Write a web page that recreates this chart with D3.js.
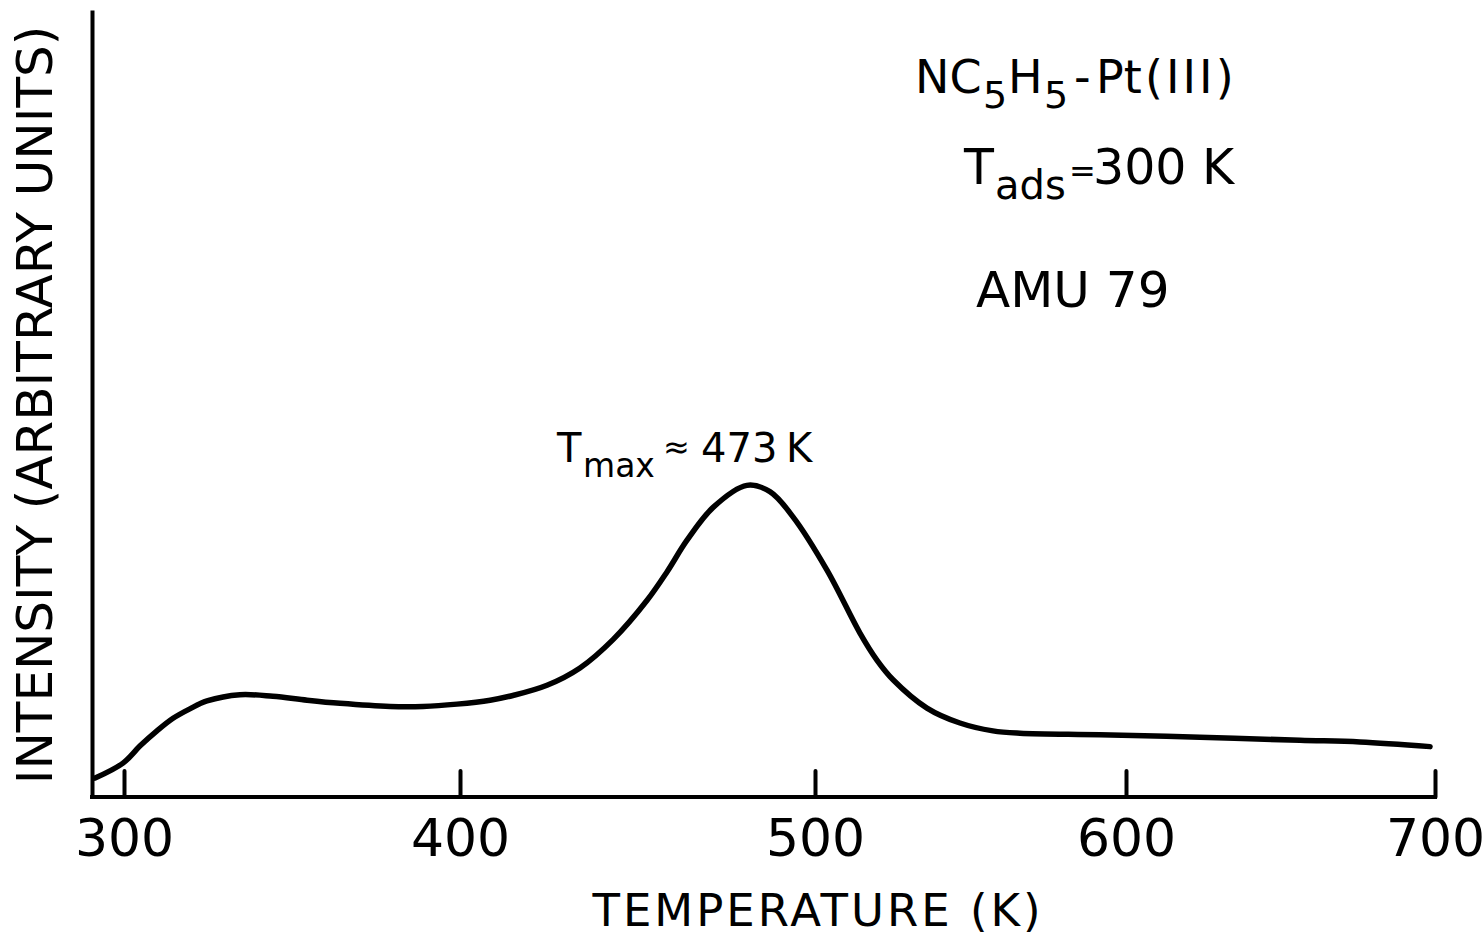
<!DOCTYPE html>
<html>
<head>
<meta charset="utf-8">
<title>NC5H5 - Pt(111) TDS, AMU 79</title>
<script src="https://cdn.jsdelivr.net/npm/d3@7"></script>
<style>
    body { margin: 0; background: #fff; }
    svg { display: block; }
    text { font-family: "DejaVu Sans", sans-serif; fill: #000; }
</style>
</head>
<body>
<script>
// chart data
const temperature = [291.4, 299.7, 304.8, 309.8, 314.6, 319.6, 324.7, 334.5, 344.3, 354.5,
    364.3, 379.2, 389.0, 399.1, 408.5, 414.9, 424.5, 433.8, 443.1, 452.7,
    458.3, 463.9, 471.3, 480.8, 487.3, 493.8, 503.9, 514.5, 519.9, 525.1,
    536.0, 546.6, 557.2, 565.9, 591.6, 623.9, 656.3, 675.7, 698.4];
const intensity = [2.4, 4.3, 6.5, 8.4, 10.0, 11.2, 12.2, 13.0, 12.8, 12.3,
    11.9, 11.5, 11.5, 11.8, 12.3, 12.9, 14.2, 16.4, 20.0, 25.0,
    28.6, 32.6, 36.8, 39.6, 38.8, 35.6, 28.8, 20.8, 17.4, 14.9,
    11.3, 9.4, 8.4, 8.1, 7.9, 7.6, 7.2, 7.0, 6.4];
const xTicks = [300, 400, 500, 600, 700];

const width = 1484;
const height = 939;
const axisLeftX = 92;   // vertical axis position
const axisBaseY = 797;  // horizontal axis position
const axisTopY = 10;
// hand drawn tick spacing of the original is uneven, so the scale is piecewise
const tickPixels = [124, 460, 815, 1126, 1435];

var svg;
var x_scale, y_scale;

function generateScale() {
    x_scale = d3.scaleLinear().domain(xTicks).range(tickPixels);
    y_scale = d3.scaleLinear().domain([0, 100]).range([axisBaseY, axisTopY]);
}

function generateAxis() {
    // y axis: just the line, no ticks
    svg.append("g")
        .attr("id", "y-axis")
        .attr("transform", "translate(" + axisLeftX + ",0)")
        .call(d3.axisLeft(y_scale).tickValues([]).tickSizeOuter(0))
        .select(".domain")
        .attr("stroke", "#000")
        .attr("stroke-width", 4);

    // x axis baseline runs from the y axis to the last tick
    svg.append("line")
        .attr("x1", axisLeftX - 2)
        .attr("x2", x_scale(700) + 2)
        .attr("y1", axisBaseY)
        .attr("y2", axisBaseY)
        .attr("stroke", "#000")
        .attr("stroke-width", 4);

    // ticks point up into the plot
    var gx = svg.append("g")
        .attr("id", "x-axis")
        .attr("transform", "translate(0," + axisBaseY + ")")
        .call(d3.axisBottom(x_scale).tickValues(xTicks).tickSizeInner(-26).tickSizeOuter(0).tickPadding(22));
    gx.select(".domain").remove();
    gx.selectAll(".tick line")
        .attr("stroke", "#000")
        .attr("stroke-width", 4)
        .attr("stroke-linecap", "round");
    gx.selectAll(".tick text")
        .attr("font-family", "DejaVu Sans")
        .attr("font-size", 52)
        .attr("fill", "#000");
}

function generateLabels() {
    svg.append("text")
        .attr("x", 818)
        .attr("y", 926)
        .attr("text-anchor", "middle")
        .attr("font-size", 45)
        .attr("letter-spacing", 3)
        .text("TEMPERATURE (K)");

    svg.append("text")
        .attr("transform", "translate(52,405) rotate(-90)")
        .attr("text-anchor", "middle")
        .attr("font-size", 50)
        .text("INTENSITY (ARBITRARY UNITS)");

    // sample description, top right
    var t1 = svg.append("text").attr("y", 93).attr("font-size", 46);
    t1.append("tspan").attr("x", 915).text("NC");
    t1.append("tspan").attr("x", 983).attr("y", 108).attr("font-size", 38).text("5");
    t1.append("tspan").attr("x", 1008).attr("y", 93).text("H");
    t1.append("tspan").attr("x", 1044).attr("y", 108).attr("font-size", 38).text("5");
    t1.append("tspan").attr("x", 1074).attr("y", 93).text("-");
    t1.append("tspan").attr("x", 1096).text("Pt");
    t1.append("tspan").attr("x", 1145).attr("letter-spacing", 3).text("(III)");

    var t2 = svg.append("text").attr("y", 184).attr("font-size", 49);
    t2.append("tspan").attr("x", 964).text("T");
    t2.append("tspan").attr("x", 995).attr("y", 199).attr("font-size", 40).text("ads");
    t2.append("tspan").attr("x", 1069).attr("y", 182).attr("font-size", 32).text("=");
    t2.append("tspan").attr("x", 1093).attr("y", 184).text("300 K");

    svg.append("text")
        .attr("x", 976)
        .attr("y", 307)
        .attr("font-size", 50)
        .text("AMU 79");

    // peak annotation
    var t3 = svg.append("text").attr("y", 462).attr("font-size", 40);
    t3.append("tspan").attr("x", 557).text("T");
    t3.append("tspan").attr("x", 583).attr("y", 477).attr("font-size", 33).text("max");
    t3.append("tspan").attr("x", 663).attr("y", 458).attr("font-size", 32).text("\u2248");
    t3.append("tspan").attr("x", 701).attr("y", 462).text("473");
    t3.append("tspan").attr("x", 786).text("K");
}

function generateCurve() {
    var points = temperature.map((t, i) => [t, intensity[i]]);
    var line = d3.line()
        .x((d) => x_scale(d[0]))
        .y((d) => y_scale(d[1]))
        .curve(d3.curveCatmullRom.alpha(0.5));

    svg.append("path")
        .datum(points)
        .attr("d", line)
        .attr("fill", "none")
        .attr("stroke", "#000")
        .attr("stroke-width", 5.5)
        .attr("stroke-linecap", "round")
        .attr("stroke-linejoin", "round");
}

document.addEventListener('DOMContentLoaded', function () {
    svg = d3.select("body")
        .append("svg")
        .attr("width", width)
        .attr("height", height);
    svg.append("rect").attr("width", width).attr("height", height).attr("fill", "#fff");

    generateScale();
    generateAxis();
    generateCurve();
    generateLabels();
});
</script>
</body>
</html>
